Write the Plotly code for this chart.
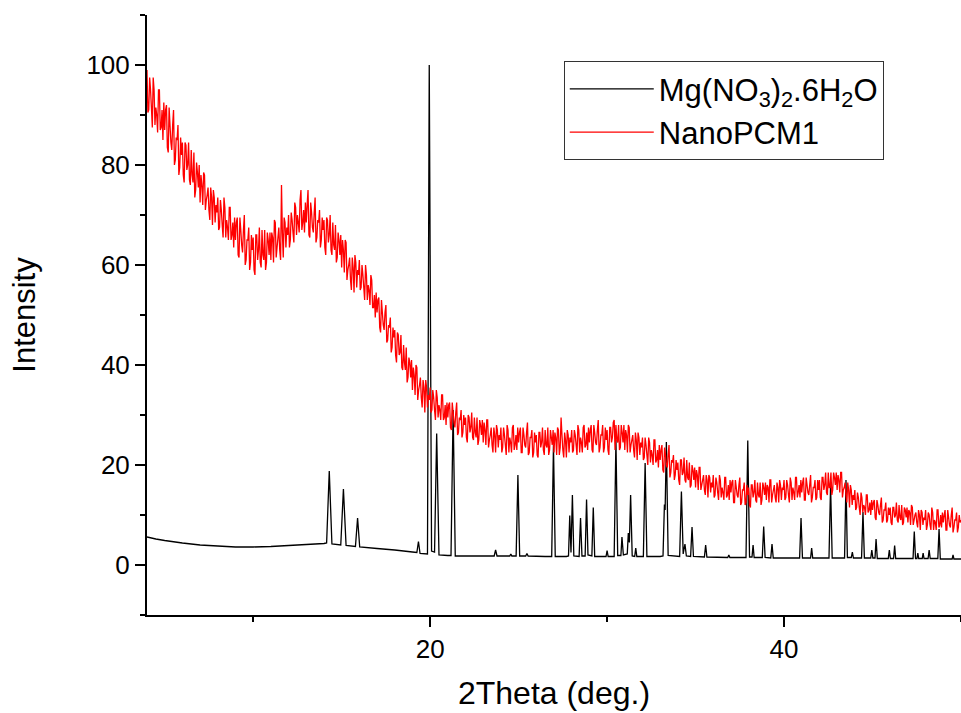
import numpy as np
import plotly.graph_objects as go

# ---------------- data ----------------
# Mg(NO3)2.6H2O pattern: baseline and peak points (2theta, intensity)
mg_2theta = [
    4.0, 4.5, 5.0, 6.0, 7.0, 8.0, 9.0, 10.0, 11.0, 12.0, 13.0, 14.0,
    14.15, 14.3, 14.45, 14.95, 15.1, 15.25, 15.78, 15.9, 16.02,
    17.0, 18.0, 19.0, 19.25, 19.34, 19.43, 19.85, 19.95, 20.08,
    20.25, 20.37, 20.5, 21.0, 21.18, 21.3, 21.42, 22.0, 23.0,
    23.62, 23.7, 23.78, 24.5, 24.56, 24.62, 24.86, 24.96, 25.06,
    25.4, 25.47, 25.54, 26.5, 26.87, 26.97, 27.07, 27.7,
    27.82, 27.89, 27.96, 28.04, 28.12, 28.42, 28.5, 28.58,
    28.76, 28.84, 28.92, 29.14, 29.22, 29.3, 29.94, 30.0, 30.06,
    30.4, 30.5, 30.6, 30.78, 30.84, 30.92, 31.14, 31.2, 31.26, 31.33, 31.42,
    31.56, 31.62, 31.68, 32.05, 32.15, 32.25, 33.0,
    33.16, 33.24, 33.28, 33.35, 33.45, 34.1, 34.2, 34.3, 34.4, 34.48,
    34.72, 34.8, 34.88, 35.5, 35.57, 35.64, 36.82, 36.88, 36.94,
    37.85, 37.95, 38.05, 38.19, 38.25, 38.31, 38.77, 38.85, 38.93,
    39.25, 39.32, 39.39, 40.0, 40.88, 40.96, 41.04, 41.5, 41.56, 41.62,
    42.54, 42.63, 42.72, 43.42, 43.5, 43.58, 43.8, 43.86, 43.92,
    44.38, 44.46, 44.54, 44.9, 44.96, 45.02, 45.14, 45.2, 45.27,
    45.89, 45.95, 46.01, 46.19, 46.25, 46.31, 47.29, 47.36, 47.43,
    47.51, 47.56, 47.61, 47.81, 47.86, 47.91, 48.14, 48.2, 48.26,
    48.69, 48.76, 48.83, 49.5, 49.55, 49.6, 50.0,
]
mg_intensity = [
    5.6, 5.2, 4.9, 4.4, 4.0, 3.8, 3.6, 3.6, 3.7, 3.9, 4.1, 4.3,
    4.4, 18.8, 4.2, 4.0, 15.2, 3.9, 3.7, 9.4, 3.6,
    3.3, 3.0, 2.6, 2.5, 4.7, 2.3, 2.2, 100.0, 2.8,
    2.6, 26.3, 2.0, 1.9, 1.9, 31.0, 1.8, 1.8, 1.8,
    1.8, 3.0, 1.8, 1.8, 2.2, 1.8, 1.8, 18.0, 1.8,
    1.8, 2.3, 1.8, 1.7, 1.7, 24.0, 1.7, 1.7,
    1.8, 9.9, 2.5, 14.0, 1.8, 1.7, 9.4, 1.8,
    1.8, 13.1, 2.0, 1.8, 11.5, 1.7, 1.7, 2.9, 1.7,
    1.7, 25.0, 1.9, 1.9, 5.6, 2.0, 2.2, 6.4, 4.5, 14.0, 1.8,
    1.7, 3.4, 1.7, 1.7, 20.4, 1.7, 1.7,
    1.8, 12.1, 11.0, 24.6, 1.9, 1.7, 14.7, 2.2, 4.2, 1.8,
    1.7, 7.6, 1.7, 1.6, 4.0, 1.6, 1.5, 2.0, 1.5,
    1.5, 24.9, 1.6, 1.6, 4.0, 1.5, 1.5, 7.7, 1.5,
    1.4, 4.2, 1.4, 1.4, 1.4, 9.4, 1.4, 1.4, 3.4, 1.4,
    1.4, 16.0, 1.4, 1.4, 17.0, 1.5, 1.5, 2.6, 1.4,
    1.4, 10.6, 1.4, 1.4, 3.0, 1.4, 1.4, 5.2, 1.3,
    1.3, 3.0, 1.3, 1.3, 3.9, 1.3, 1.3, 6.7, 1.3,
    1.3, 2.4, 1.3, 1.3, 2.4, 1.3, 1.3, 3.0, 1.3,
    1.3, 7.2, 1.2, 1.2, 2.0, 1.2, 1.2,
]

# NanoPCM1 pattern: scan from 4.0 to 50.0 deg in 0.05 deg steps (one row per degree)
nano_start, nano_step = 4.0, 0.05
nano_rows = [
    [99, 90.5, 91, 97.5, 95, 91.5, 87.5, 97.5, 95, 88, 91.5, 90, 86.5, 95, 95, 87, 87.5, 91, 85, 92.5],          # 4
    [87, 91, 92, 83.5, 82.5, 91.5, 88, 84.5, 83, 88, 91, 80, 81, 85.5, 85, 88, 78, 79.5, 85.5, 82],              # 5
    [84.5, 78, 76.5, 84.5, 84, 79, 80, 84.5, 77, 76, 83, 78, 76.5, 82.5, 73.5, 75, 80.5, 78.5, 75.5, 80],        # 6
    [72.5, 78, 76, 72, 78.5, 78, 71, 73, 74, 75.5, 71, 69, 75.5, 73.5, 68, 75, 73.5, 68.5, 72, 70.5],            # 7
    [73.5, 67, 67.5, 73, 71, 68, 65.5, 73.5, 71.5, 65.5, 69, 67.5, 65, 71.5, 71.5, 65, 66, 68.5, 63.5, 69.5],    # 8
    [65, 68.5, 69.5, 62, 61.5, 69.5, 67, 64, 62.5, 67, 70, 60, 61, 65, 65, 67.5, 59, 60.5, 66, 63],              # 9
    [65.5, 59, 58, 66, 66, 61, 63, 67.5, 60.5, 59.5, 67, 62, 61, 67, 59, 60.5, 66.5, 65, 62, 66.5],              # 10
    [61, 66.5, 65.5, 60.5, 69, 68.5, 61.5, 63.5, 65.5, 67.5, 63, 61, 76, 66.5, 61.5, 69.5, 68.5, 63.5, 67.5, 66],  # 11
    [70, 63.5, 65, 70.5, 69, 66.5, 64.5, 72.5, 71.5, 66, 70, 68.5, 66.5, 73, 75, 67, 68.5, 71, 66.5, 72.5],      # 12
    [68.5, 72, 75, 66, 65.5, 72.5, 70.5, 67.5, 66.5, 70.5, 73.5, 64.5, 65.5, 69, 68.5, 71, 63.5, 65, 69.5, 67],  # 13
    [69, 63.5, 62, 69.5, 69, 64.5, 66, 70, 63, 62, 68.5, 64, 63, 68, 60.5, 61.5, 66.5, 65, 62, 66],              # 14
    [59.5, 65, 63, 58.5, 65, 64.5, 57, 59, 60, 61.5, 57, 55, 61.5, 59.5, 54.5, 62, 60.5, 55.5, 59, 58],          # 15
    [61, 55, 55.5, 60, 58, 55.5, 53, 60, 58, 53, 56, 55, 52, 58, 57, 51.5, 51.5, 54, 49.5, 54.5],                # 16
    [50.5, 53, 53.5, 47.5, 46.5, 53, 50.5, 48, 47, 50.5, 52, 44.5, 45, 48, 47.5, 49.5, 42.5, 43.5, 47.5, 45.5],  # 17
    [47, 42, 40.5, 46.5, 46, 42, 42.5, 46, 39.5, 39, 44, 40.5, 39, 43.5, 36.5, 37.5, 41.5, 40.5, 37.5, 41],      # 18
    [35, 39.5, 38, 34, 40, 39.5, 33, 35, 36, 37.5, 33.5, 31.5, 37, 35.5, 30.5, 37, 35.5, 31.5, 34, 33],          # 19
    [35.5, 30.5, 31, 35, 33.5, 31, 29, 35, 33.5, 29.5, 32, 31, 29, 34, 34, 29, 29.5, 32, 28, 32.5],              # 20
    [29.5, 32, 32.5, 27.5, 27, 32.5, 30.5, 28.5, 27.5, 30.5, 32.5, 26, 26.5, 29.5, 29, 31, 25.5, 26.5, 30, 28],  # 21
    [29.5, 25.5, 24.5, 30, 29.5, 26.5, 27.5, 30.5, 25.5, 25, 29.5, 26.5, 25.5, 29.5, 24, 25, 29, 28, 26, 29],    # 22
    [24.5, 28.5, 27, 24, 29, 29, 23.5, 25, 26, 27.5, 24, 22.5, 27.5, 26, 22.5, 28, 27, 23.5, 26, 25],            # 23
    [27.5, 22.5, 23.5, 27.5, 26, 24, 22, 28, 27, 22.5, 25.5, 24.5, 22.5, 27.5, 28, 23, 24, 26, 23, 27.5],        # 24
    [24.5, 26.5, 27.5, 22.5, 22.5, 27.5, 26, 24, 23.5, 26.5, 28.5, 22, 22.5, 25.5, 25.5, 27, 21.5, 22.5, 26.5, 24.5],  # 25
    [26, 22, 21.5, 26.5, 26.5, 23.5, 24.5, 27.5, 23, 22, 27, 24, 23.5, 27.5, 22, 23, 27, 25.5, 24, 27],          # 26
    [22.5, 26.5, 25.5, 22, 27.5, 27, 22, 23.5, 29.5, 26, 23, 21.5, 26.5, 25, 21.5, 27, 26, 22.5, 25.5, 24.5],    # 27
    [27, 22.5, 23, 27, 26, 24, 22, 28, 27, 22.5, 25.5, 24.5, 22.5, 27.5, 28, 23.5, 24, 26.5, 23, 27.5],          # 28
    [24.5, 27, 28, 23, 22.5, 28, 26.5, 24.5, 24, 27, 29, 22.5, 23.5, 26, 26, 28, 22.5, 23.5, 27.5, 25],          # 29
    [27, 23, 22, 27.5, 27.5, 24.5, 25.5, 28.5, 29, 23, 28, 25, 24.5, 28, 23, 23.5, 28, 26.5, 24.5, 28],          # 30
    [23, 27, 26, 22.5, 28, 27.5, 22.5, 24, 25, 26, 23, 21.5, 26.5, 25, 21, 26.5, 25.5, 22, 24.5, 23.5],          # 31
    [25.5, 21, 21.5, 25.5, 24, 22, 20, 25.5, 24.5, 20.5, 23, 22, 20, 25, 25, 20.5, 21, 23, 19.5, 24],            # 32
    [21, 23, 24, 19, 18.5, 23.5, 22, 20, 19.5, 22, 24, 17.5, 18.5, 21, 20.5, 22, 17, 18, 21, 19],                # 33
    [20.5, 17, 16, 21, 21, 18, 18.5, 21.5, 17, 16.5, 21, 17.5, 17, 20.5, 15.5, 16, 20, 19, 17, 19.5],            # 34
    [15.5, 19, 18, 15, 19.5, 19.5, 15, 16, 17, 18, 15, 14, 18, 17, 13.5, 18, 17.5, 14.5, 16.5, 15.5],            # 35
    [18, 13.5, 14, 17.5, 16.5, 14.5, 13, 18, 17, 13.5, 15.5, 14.5, 13, 17.5, 17.5, 13.5, 14, 16, 13, 17],        # 36
    [14.5, 16.5, 17, 12.5, 12.5, 17, 15.5, 14, 13.5, 16, 17.5, 12, 12.5, 15, 15, 16.5, 12, 12.5, 16, 14],        # 37
    [15.5, 12, 11.5, 16, 16, 13.5, 14.5, 17, 13, 12.5, 16.5, 14, 13.5, 16.5, 12, 13, 16.5, 15.5, 14, 16.5],      # 38
    [13, 16, 15.5, 12.5, 17, 17, 12.5, 14, 15, 16, 13.5, 12.5, 16.5, 15.5, 12.5, 17, 16, 13, 15.5, 15],          # 39
    [17, 13, 13.5, 17, 16, 14, 12.5, 17.5, 16.5, 13, 15.5, 14.5, 13, 17.5, 17.5, 13.5, 14.5, 16, 13.5, 17],      # 40
    [14.5, 16.5, 17.5, 13, 13, 17.5, 16, 14.5, 14, 16, 18, 12.5, 13.5, 15.5, 15.5, 17, 13, 13.5, 17, 15],        # 41
    [17, 13.5, 13, 17.5, 17.5, 15, 16, 18.5, 14.5, 14, 18.5, 15.5, 15.5, 18.5, 14, 15, 18.5, 17.5, 16, 18.5],    # 42
    [15, 18, 17, 14.5, 18.5, 18.5, 13.5, 15, 15.5, 16.5, 14, 12.5, 16.5, 15, 11.5, 16, 15, 12, 14, 13],          # 43
    [15, 11, 11.5, 14.5, 13.5, 11.5, 10, 14.5, 13.5, 10.5, 12, 11.5, 10, 14, 14, 10.5, 11, 12.5, 10, 13],        # 44
    [11, 12.5, 13, 9.5, 9, 13, 12, 10.5, 10, 12, 13.5, 8.5, 9, 11, 11, 12.5, 8.5, 9, 11.5, 10],                  # 45
    [11.5, 8.5, 8, 11.5, 11.5, 9.5, 10, 12.5, 9, 8.5, 12, 9.5, 9, 12, 8, 8.5, 11.5, 11, 9.5, 11.5],              # 46
    [8.5, 11, 10.5, 8, 12, 11.5, 8, 9, 10, 10.5, 8.5, 7.5, 11, 10, 7, 11, 10.5, 8, 9.5, 9],                      # 47
    [11, 7, 8, 10.5, 10, 8, 7, 11.5, 10.5, 7, 9, 8.5, 7, 11, 11, 7.5, 8, 10, 7.5, 10.5],                         # 48
    [8.5, 10, 11, 7, 7, 11, 9.5, 8, 7.5, 10, 11.5, 6.5, 7.5, 9, 9, 10.5, 6.5, 7.5, 10, 8.5],                     # 49
    [9],                                                                                                        # 50
]
nano_intensity = [v for row in nano_rows for v in row]
nano_2theta = np.round(nano_start + nano_step * np.arange(len(nano_intensity)), 2)

series_names = ["Mg(NO<sub>3</sub>)<sub>2</sub>.6H<sub>2</sub>O", "NanoPCM1"]
x_title = "2Theta (deg.)"
y_title = "Intensity"

# ---------------- figure ----------------
FONT = "Arial, 'Liberation Sans', sans-serif"

fig = go.Figure()
fig.add_trace(go.Scatter(x=mg_2theta, y=mg_intensity, mode="lines",
                         name=series_names[0],
                         line=dict(color="black", width=1.3, simplify=False)))
fig.add_trace(go.Scatter(x=nano_2theta, y=nano_intensity, mode="lines",
                         name=series_names[1],
                         line=dict(color="#FF0000", width=1.3, simplify=False)))

axis_common = dict(
    showgrid=False, zeroline=False, showline=True, linecolor="black",
    linewidth=2, ticks="outside", ticklen=10, tickwidth=2, tickcolor="black",
    tickfont=dict(family=FONT, size=26, color="black"),
    mirror=False,
)

fig.update_xaxes(range=[4, 50], tick0=0, dtick=20,
                 title=dict(text=x_title, standoff=18,
                            font=dict(family=FONT, size=32, color="black")),
                 minor=dict(dtick=10, tick0=0, ticklen=5, tickwidth=2,
                            tickcolor="black", ticks="outside"),
                 **axis_common)
fig.update_yaxes(range=[-10, 110], tick0=0, dtick=20,
                 title=dict(text=y_title, standoff=42,
                            font=dict(family=FONT, size=31, color="black")),
                 minor=dict(dtick=10, tick0=0, ticklen=5, tickwidth=2,
                            tickcolor="black", ticks="outside"),
                 **axis_common)

fig.update_layout(
    width=961, height=713,
    margin=dict(l=147, r=0, t=15, b=98, autoexpand=False),
    plot_bgcolor="white", paper_bgcolor="white",
    font=dict(family=FONT, color="black"),
    showlegend=True,
    legend=dict(x=0.512, y=0.923, xanchor="left", yanchor="top",
                bordercolor="#333333", borderwidth=1, bgcolor="white",
                font=dict(family=FONT, size=31, color="black"),
                itemwidth=84, tracegroupgap=0),
)

fig.write_html("out.html",
               config={"displayModeBar": False},
               post_script="document.body.style.margin='0';"
                           "document.documentElement.style.overflow='hidden';"
                           "document.body.style.overflow='hidden';")
